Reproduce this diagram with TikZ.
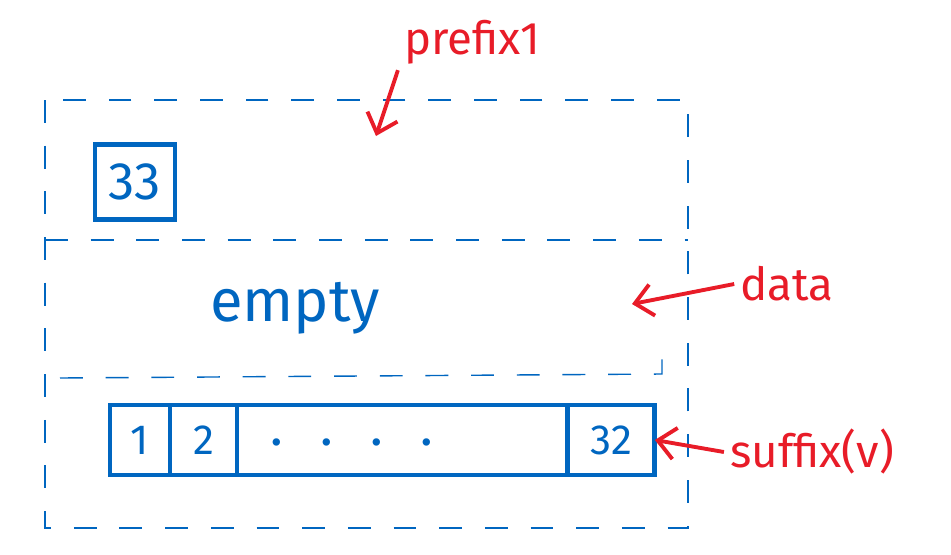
\documentclass[tikz,border=0pt]{standalone}
\usepackage{fontspec}
\setmainfont{Fira Sans}
\usetikzlibrary{positioning,arrows.meta}

\definecolor{penblue}{RGB}{0,102,192}
\definecolor{penred}{RGB}{232,28,40}

\tikzstyle{frame} = [draw=penblue, thick, dash pattern=on 13pt off 13pt]
\tikzstyle{cell} = [draw=penblue, line width=2.8pt, rectangle, inner sep=0pt,
  outer sep=0pt, minimum height=1.4cm, text=penblue,
  font=\fontsize{24}{28}\selectfont]
\tikzstyle{markbox} = [draw=penblue, line width=2.8pt, rectangle,
  minimum width=1.6cm, minimum height=1.5cm, text=penblue,
  font=\fontsize{30}{34}\selectfont]
\tikzstyle{bluetext} = [text=penblue, font=\fontsize{34}{40}\selectfont]
\tikzstyle{redtext} = [text=penred, font=\fontsize{26}{30}\selectfont]
\tikzstyle{redarrow} = [-{Straight Barb[length=10pt,width=18pt]}, line width=2.2pt,
  draw=penred]

\begin{document}
\begin{tikzpicture}[x=0.02cm, y=-0.02cm]
        \useasboundingbox (0,0) rectangle (951,555);

        % dashed outline of the data area
        \draw[frame] (45,100) rectangle (688,528);
        \draw[frame] (45,240) -- (688,240);
        \draw[frame] (60,378) -- (662,374) -- (662,340);

        \node [markbox]  (box33)  at (135,182) {33};
        \node [bluetext] (empty)  at (295,308) {empty};

        % suffix bar
        \node [cell, minimum width=1.2cm,  anchor=west] (cell1)  at (110,440) {1};
        \node [cell, minimum width=1.34cm, right=0pt of cell1] (cell2)  {2};
        \node [cell, minimum width=6.62cm, right=0pt of cell2] (cellmid) {};
        \node [cell, minimum width=1.74cm, right=0pt of cellmid] (cell32) {32};
        \node [text=penblue, font=\fontsize{30}{34}\selectfont] (dots) at (352,442)
          {.\hspace{0.75cm}.\hspace{0.75cm}.\hspace{0.75cm}.};

        % labels
        \node [redtext] (prefix) at (472,42) {prefix1};
        \node [redtext] (data)   at (787,284) {data};
        \node [redtext] (suffix) at (812,452) {suffix(v)};

        \coordinate (prefixTip) at (376,136);
        \coordinate (dataTip)   at (632,304);

        \draw[redarrow] (prefix.south west) -- (prefixTip);
        \draw[redarrow] (data.west) -- (dataTip);
        \draw[redarrow] (suffix.west) -- (cell32.east);
      \end{tikzpicture}
\end{document}
